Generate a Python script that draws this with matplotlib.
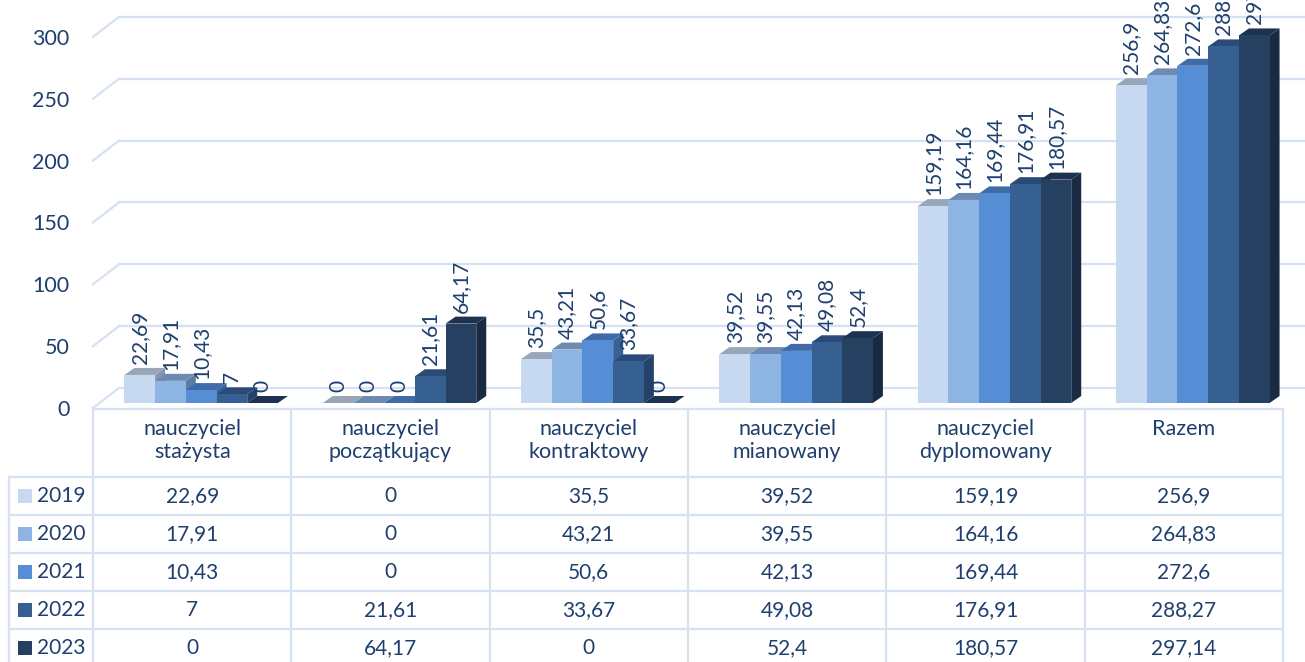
import matplotlib.pyplot as plt
from matplotlib.patches import Polygon

plt.rcParams['font.family'] = ['Lato', 'DejaVu Sans']

# Data
categories = ["nauczyciel\nstażysta", "nauczyciel\npoczątkujący", "nauczyciel\nkontraktowy",
              "nauczyciel\nmianowany", "nauczyciel\ndyplomowany", "Razem"]
years = ["2019", "2020", "2021", "2022", "2023"]
v2019 = [22.69, 0, 35.5, 39.52, 159.19, 256.9]
v2020 = [17.91, 0, 43.21, 39.55, 164.16, 264.83]
v2021 = [10.43, 0, 50.6, 42.13, 169.44, 272.6]
v2022 = [7, 21.61, 33.67, 49.08, 176.91, 288.27]
v2023 = [0, 64.17, 0, 52.4, 180.57, 297.14]
series = [v2019, v2020, v2021, v2022, v2023]
yticks = [0, 50, 100, 150, 200, 250, 300]

# Colours: front, top, side faces per year
front = ["#C6D9F1", "#8EB4E3", "#558ED5", "#376092", "#254061"]
top = ["#97A6B8", "#6C8AB2", "#3F6CA8", "#2A4B78", "#1C3250"]
side = ["#8796A8", "#5F7BA0", "#386196", "#24426A", "#1A2A42"]
text_col = "#1F3F6E"
grid_col = "#D6E1F3"


def fmt(v):
    return f"{v:g}".replace(".", ",")


W, H = 1305, 662
fig = plt.figure(figsize=(W / 100, H / 100), dpi=100)

# plot area geometry (pixels)
px_x = 198.33      # pixels per category
px_y = 1.237       # pixels per unit
left_px = 93
floor_px = 408

ax = fig.add_axes([left_px / W, (H - floor_px) / H, 1 - left_px / W, floor_px / H])
ax.set_xlim(-0.5, -0.5 + (W - left_px) / px_x)
ax.set_ylim(0, floor_px / px_y)
for s in ax.spines.values():
    s.set_visible(False)
ax.set_xticks([])
ax.set_yticks(yticks)
ax.set_yticklabels([str(t) for t in yticks])
ax.tick_params(axis='y', length=0, pad=17, labelsize=15.5, labelcolor=text_col)

# back wall gridlines with perspective stubs
bx, by = 26 / px_x, 20 / px_y
x_end = ax.get_xlim()[1]
for t in yticks:
    ax.plot([-0.5, -0.5 + bx], [t, t + by], color=grid_col, lw=1.6, zorder=1, clip_on=False)
    ax.plot([-0.5 + bx, x_end], [t + by, t + by], color=grid_col, lw=1.6, zorder=1, clip_on=False)

# 3D-looking bars
bw = 30.7 / px_x
off_x, off_y = 9 / px_x, 5 / px_y
dx, dy = 10 / px_x, 7 / px_y
z = 2
for i in range(len(categories)):
    for j, vals in enumerate(series):
        v = vals[i]
        x0 = i + off_x - 2.5 * bw + j * bw
        x1 = x0 + bw
        y0 = off_y
        y1 = off_y + v
        ax.add_patch(Polygon([(x1, y0), (x1, y1), (x1 + dx, y1 + dy), (x1 + dx, y0 + dy)],
                             closed=True, facecolor=side[j], edgecolor='none', zorder=z, clip_on=False))
        ax.add_patch(Polygon([(x0, y1), (x1, y1), (x1 + dx, y1 + dy), (x0 + dx, y1 + dy)],
                             closed=True, facecolor=top[j], edgecolor='none', zorder=z, clip_on=False))
        if v > 0:
            ax.bar(x0, v, width=bw, bottom=y0, align='edge', color=front[j],
                   edgecolor='none', zorder=z + 0.5, clip_on=False)
        ax.text(x0 + bw / 2, y1 + dy + 4 / px_y, fmt(v), rotation=90, ha='center', va='bottom',
                fontsize=15, color=text_col, zorder=50, clip_on=False)
        z += 1

# data table
tab = fig.add_axes([0, 0, 1, (H - floor_px) / H])
tab.set_xlim(-0.5 - left_px / px_x, -0.5 + (W - left_px) / px_x)
tab.set_ylim(H, floor_px)
tab.axis('off')

right_edge = len(categories) - 0.5
leg_left = -0.5 - 84 / px_x
header_bottom = 477
row_h = 38
tab_top = 409

tab.plot([-0.5, right_edge], [tab_top, tab_top], color=grid_col, lw=1.6, clip_on=False)
for k in range(len(categories) + 1):
    tab.plot([k - 0.5, k - 0.5], [tab_top, H + 5], color=grid_col, lw=1.6, clip_on=False)
tab.plot([leg_left, leg_left], [header_bottom, H + 5], color=grid_col, lw=1.6, clip_on=False)
for r in range(len(years)):
    yl = header_bottom + r * row_h
    tab.plot([leg_left, right_edge], [yl, yl], color=grid_col, lw=1.6, clip_on=False)

for i, c in enumerate(categories):
    tab.text(i, 419, c, ha='center', va='top', fontsize=15.5, color=text_col, linespacing=1.2)

for j, (yr, vals) in enumerate(zip(years, series)):
    yc = header_bottom + j * row_h + row_h / 2
    tab.plot([leg_left + 16 / px_x], [yc], marker='s', ms=9.5, mew=0, color=front[j], clip_on=False)
    tab.text(leg_left + 28 / px_x, yc, yr, ha='left', va='center', fontsize=15, color=text_col)
    for i, v in enumerate(vals):
        tab.text(i, yc, fmt(v), ha='center', va='center', fontsize=15, color=text_col)

fig.savefig("out.png", dpi=100)
